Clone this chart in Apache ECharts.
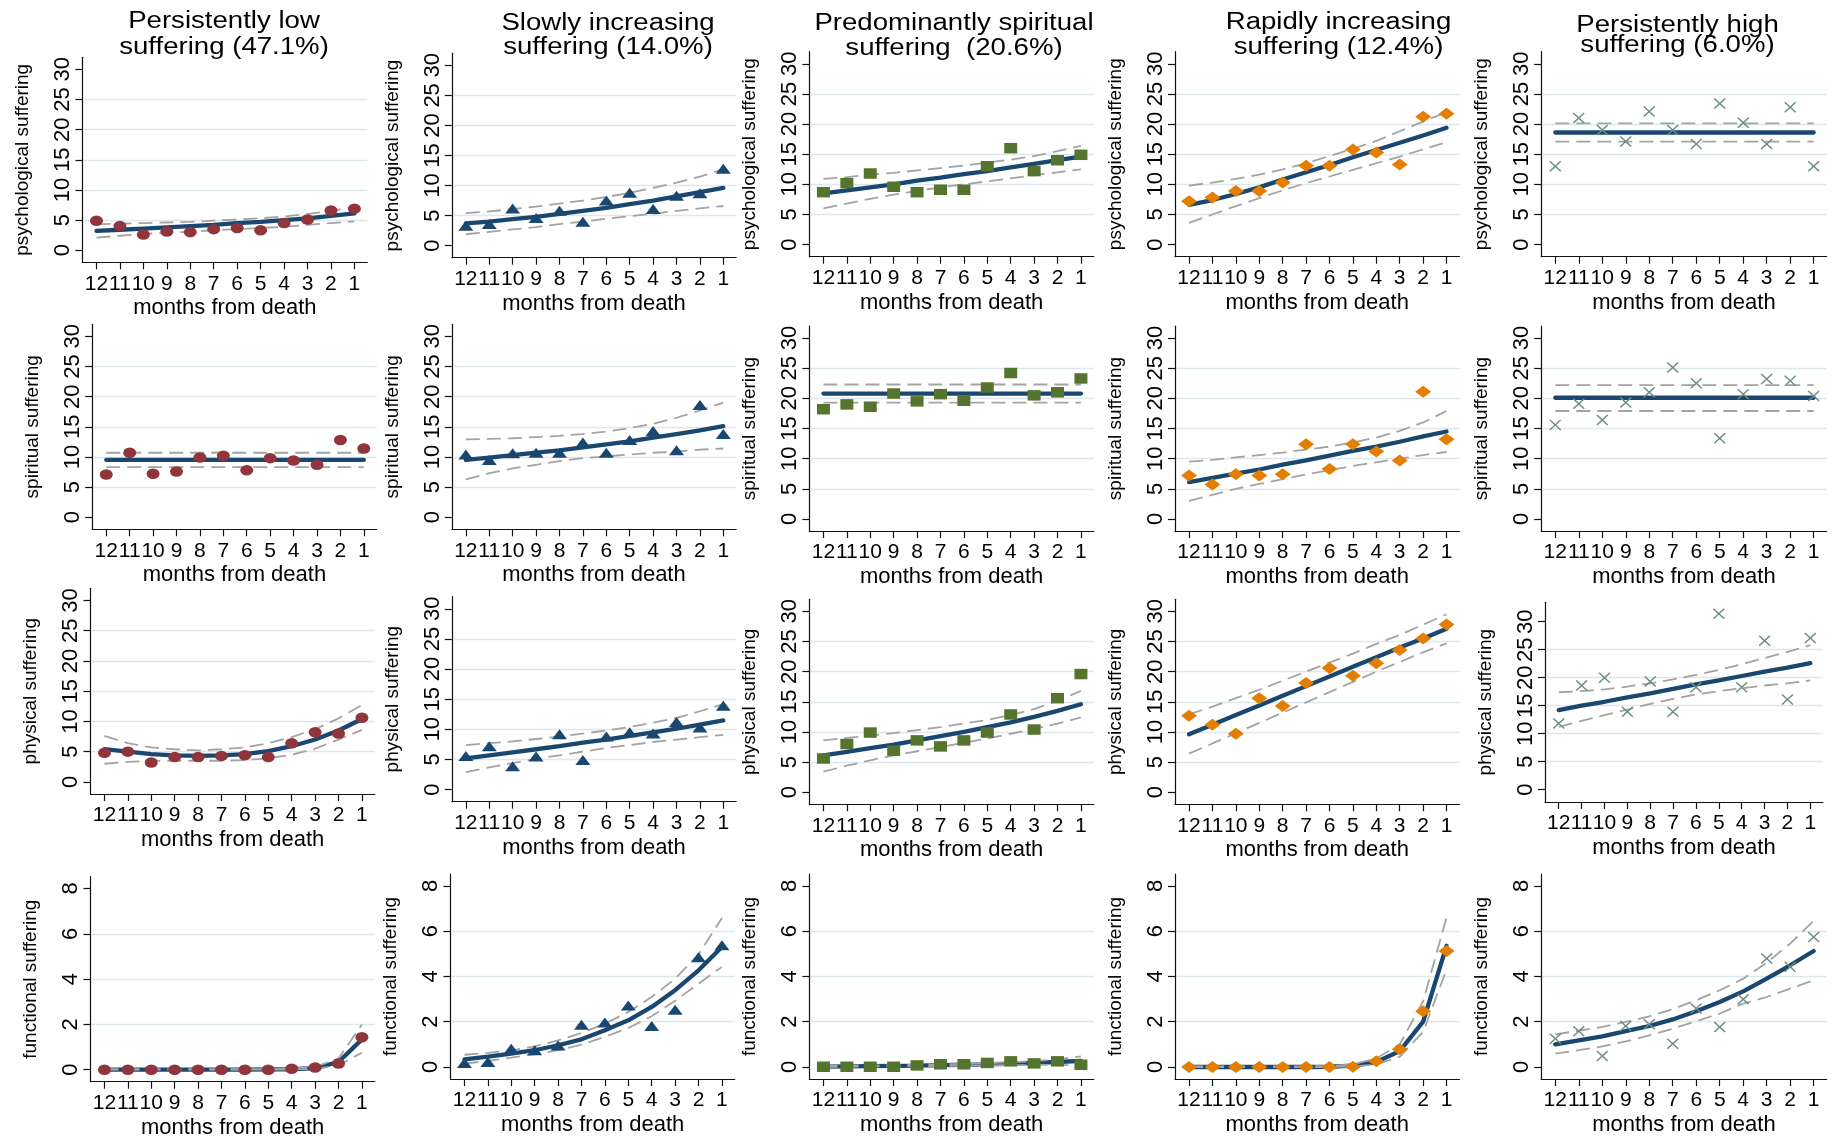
<!DOCTYPE html>
<html>
<head>
<meta charset="utf-8">
<title>Suffering trajectories in the last 12 months</title>
<script src="https://cdn.jsdelivr.net/npm/echarts@6.0.0/dist/echarts.min.js"></script>
<style>
html, body { margin: 0; padding: 0; background: #fff; }
#chart { width: 1835px; height: 1139px; }
</style>
</head>
<body>
<div id="chart"></div>
<script>
// 类别与刻度
var months = [12, 11, 10, 9, 8, 7, 6, 5, 4, 3, 2, 1];
var classTitles = [
	'Persistently low\nsuffering (47.1%)',
	'Slowly increasing\nsuffering (14.0%)',
	'Predominantly spiritual\nsuffering  (20.6%)',
	'Rapidly increasing\nsuffering (12.4%)',
	'Persistently high\nsuffering (6.0%)'
];
var domainNames = ['psychological suffering', 'spiritual suffering', 'physical suffering', 'functional suffering'];
var ticks30 = [0, 5, 10, 15, 20, 25, 30];
var ticks8 = [0, 2, 4, 6, 8];

// 数据: 每行一个类别 (月 12 -> 1)
var psychPts = [
	[4.9, 4.0, 2.6, 3.1, 3.0, 3.5, 3.7, 3.3, 4.5, 5.1, 6.6, 6.9],
	[3.3, 3.6, 6.2, 4.6, 5.8, 4.0, 7.5, 8.8, 6.1, 8.3, 8.7, 12.8],
	[8.7, 10.2, 11.8, 9.6, 8.7, 9.1, 9.1, 13.0, 16.0, 12.2, 14.0, 14.9],
	[7.2, 7.8, 8.9, 8.9, 10.3, 13.1, 13.1, 15.8, 15.3, 13.3, 21.2, 21.7],
	[13.0, 21.0, 19.0, 17.1, 22.1, 19.0, 16.7, 23.4, 20.2, 16.7, 22.8, 13.0]
];
var psychFit = [
	[3.2, 3.4, 3.6, 3.8, 4.0, 4.2, 4.5, 4.7, 5.0, 5.3, 5.7, 6.1],
	[3.7, 4.0, 4.4, 4.8, 5.3, 5.8, 6.3, 6.9, 7.5, 8.2, 8.9, 9.6],
	[8.5, 9.0, 9.5, 10.0, 10.6, 11.1, 11.7, 12.2, 12.8, 13.4, 14.0, 14.6],
	[6.6, 7.4, 8.4, 9.5, 10.8, 12.0, 13.2, 14.5, 15.7, 16.9, 18.1, 19.4],
	[18.6, 18.6, 18.6, 18.6, 18.6, 18.6, 18.6, 18.6, 18.6, 18.6, 18.6, 18.6]
];
var psychHi = [
	[4.3, 4.4, 4.5, 4.6, 4.7, 4.9, 5.1, 5.3, 5.6, 6.0, 6.5, 7.2],
	[5.4, 5.7, 6.1, 6.5, 7.0, 7.5, 8.1, 8.8, 9.6, 10.5, 11.5, 12.7],
	[10.9, 11.2, 11.6, 11.9, 12.3, 12.7, 13.1, 13.6, 14.1, 14.7, 15.5, 16.4],
	[9.8, 10.3, 10.9, 11.6, 12.5, 13.5, 14.7, 15.9, 17.2, 18.8, 20.4, 22.0],
	[20.1, 20.1, 20.1, 20.1, 20.1, 20.1, 20.1, 20.1, 20.1, 20.1, 20.1, 20.1]
];
var psychLo = [
	[2.1, 2.4, 2.7, 2.9, 3.1, 3.3, 3.5, 3.7, 3.9, 4.2, 4.5, 4.8],
	[1.9, 2.3, 2.7, 3.1, 3.6, 4.0, 4.5, 4.9, 5.3, 5.8, 6.2, 6.6],
	[6.0, 6.8, 7.6, 8.3, 8.9, 9.5, 10.0, 10.5, 11.0, 11.5, 12.0, 12.5],
	[3.6, 5.0, 6.4, 7.7, 9.0, 10.2, 11.3, 12.4, 13.5, 14.6, 15.8, 17.0],
	[17.1, 17.1, 17.1, 17.1, 17.1, 17.1, 17.1, 17.1, 17.1, 17.1, 17.1, 17.1]
];

var spirPts = [
	[7.1, 10.7, 7.2, 7.6, 9.9, 10.2, 7.8, 9.8, 9.4, 8.7, 12.8, 11.4],
	[10.4, 9.5, 10.6, 10.7, 10.7, 12.4, 10.7, 12.8, 14.3, 11.1, 18.6, 13.8],
	[18.2, 19.0, 18.6, 20.8, 19.5, 20.7, 19.6, 21.8, 24.2, 20.5, 21.0, 23.3],
	[7.2, 5.7, 7.4, 7.2, 7.4, 12.4, 8.3, 12.4, 11.2, 9.7, 21.1, 13.2],
	[15.6, 19.1, 16.4, 19.3, 21.0, 25.1, 22.5, 13.4, 20.7, 23.2, 22.9, 20.4]
];
var spirFit = [
	[9.5, 9.5, 9.5, 9.5, 9.5, 9.5, 9.5, 9.5, 9.5, 9.5, 9.5, 9.5],
	[9.5, 9.9, 10.3, 10.7, 11.1, 11.6, 12.1, 12.6, 13.2, 13.8, 14.4, 15.1],
	[20.8, 20.8, 20.8, 20.8, 20.8, 20.8, 20.8, 20.8, 20.8, 20.8, 20.8, 20.8],
	[6.1, 6.8, 7.5, 8.2, 9.0, 9.7, 10.5, 11.3, 12.0, 12.8, 13.7, 14.5],
	[20.1, 20.1, 20.1, 20.1, 20.1, 20.1, 20.1, 20.1, 20.1, 20.1, 20.1, 20.1]
];
var spirHi = [
	[10.7, 10.7, 10.7, 10.7, 10.7, 10.7, 10.7, 10.7, 10.7, 10.7, 10.7, 10.7],
	[12.9, 13.0, 13.1, 13.3, 13.5, 13.8, 14.2, 14.8, 15.5, 16.5, 17.7, 19.0],
	[22.3, 22.3, 22.3, 22.3, 22.3, 22.3, 22.3, 22.3, 22.3, 22.3, 22.3, 22.3],
	[9.5, 9.8, 10.2, 10.6, 11.0, 11.5, 12.0, 12.7, 13.5, 14.6, 16.0, 17.9],
	[22.2, 22.2, 22.2, 22.2, 22.2, 22.2, 22.2, 22.2, 22.2, 22.2, 22.2, 22.2]
];
var spirLo = [
	[8.3, 8.3, 8.3, 8.3, 8.3, 8.3, 8.3, 8.3, 8.3, 8.3, 8.3, 8.3],
	[6.3, 7.3, 8.1, 8.7, 9.3, 9.8, 10.1, 10.4, 10.7, 10.9, 11.2, 11.4],
	[19.3, 19.3, 19.3, 19.3, 19.3, 19.3, 19.3, 19.3, 19.3, 19.3, 19.3, 19.3],
	[3.0, 4.0, 5.0, 5.8, 6.6, 7.4, 8.1, 8.8, 9.4, 10.0, 10.6, 11.1],
	[17.9, 17.9, 17.9, 17.9, 17.9, 17.9, 17.9, 17.9, 17.9, 17.9, 17.9, 17.9]
];

var physPts = [
	[4.8, 5.0, 3.2, 4.1, 4.1, 4.3, 4.4, 4.1, 6.4, 8.2, 8.0, 10.6],
	[5.6, 7.2, 3.9, 5.5, 9.2, 4.9, 8.8, 9.5, 9.3, 11.2, 10.3, 13.9],
	[5.6, 8.0, 9.9, 6.9, 8.6, 7.6, 8.6, 9.9, 12.9, 10.4, 15.6, 19.6],
	[12.7, 11.2, 9.7, 15.6, 14.3, 18.1, 20.6, 19.3, 21.4, 23.6, 25.5, 27.8],
	[11.8, 18.6, 20.0, 13.9, 19.3, 13.9, 18.3, 31.4, 18.3, 26.6, 16.1, 27.1]
];
var physFit = [
	[5.4, 5.0, 4.6, 4.4, 4.3, 4.4, 4.6, 5.1, 5.9, 7.0, 8.5, 10.4],
	[5.2, 5.7, 6.2, 6.7, 7.2, 7.8, 8.3, 8.9, 9.5, 10.1, 10.8, 11.5],
	[6.1, 6.7, 7.3, 7.9, 8.6, 9.3, 10.0, 10.8, 11.6, 12.5, 13.5, 14.6],
	[9.6, 11.2, 12.8, 14.4, 16.0, 17.6, 19.2, 20.8, 22.4, 24.0, 25.5, 27.1],
	[14.2, 15.0, 15.7, 16.5, 17.2, 18.0, 18.8, 19.5, 20.3, 21.1, 21.8, 22.6]
];
var physHi = [
	[7.6, 6.4, 5.7, 5.4, 5.2, 5.4, 5.7, 6.4, 7.4, 8.7, 10.5, 12.7],
	[7.4, 7.7, 8.0, 8.4, 8.8, 9.3, 9.8, 10.4, 11.1, 11.9, 13.0, 14.2],
	[8.6, 9.0, 9.4, 9.8, 10.3, 10.8, 11.4, 12.0, 12.8, 13.8, 15.2, 16.8],
	[12.9, 14.2, 15.6, 17.0, 18.5, 20.0, 21.5, 23.0, 24.6, 26.1, 27.8, 29.5],
	[17.4, 17.6, 17.9, 18.4, 19.0, 19.7, 20.5, 21.4, 22.4, 23.5, 24.6, 25.8]
];
var physLo = [
	[3.0, 3.3, 3.5, 3.5, 3.5, 3.5, 3.6, 3.9, 4.5, 5.5, 7.0, 8.6],
	[2.9, 3.7, 4.4, 5.1, 5.7, 6.3, 6.9, 7.4, 7.9, 8.3, 8.7, 9.1],
	[3.4, 4.4, 5.3, 6.1, 6.8, 7.5, 8.2, 8.9, 9.7, 10.5, 11.4, 12.4],
	[6.4, 8.1, 9.8, 11.5, 13.2, 14.9, 16.6, 18.3, 20.0, 21.6, 23.2, 24.7],
	[11.2, 12.3, 13.3, 14.3, 15.3, 16.2, 17.0, 17.6, 18.1, 18.6, 19.0, 19.5]
];

var funcPts = [
	[0, 0, 0, 0, 0, 0, 0, 0, 0.04, 0.1, 0.27, 1.43],
	[0.18, 0.22, 0.8, 0.74, 0.95, 1.87, 1.96, 2.72, 1.81, 2.53, 4.85, 5.38],
	[0.01, 0.01, 0.01, 0.01, 0.07, 0.12, 0.12, 0.18, 0.25, 0.16, 0.25, 0.1],
	[0, 0, 0, 0, 0, 0, 0, 0.01, 0.25, 0.78, 2.46, 5.12],
	[1.25, 1.58, 0.49, 1.81, 1.89, 1.03, 2.58, 1.77, 2.99, 4.79, 4.42, 5.74]
];
var funcFit = [
	[0, 0, 0, 0, 0, 0, 0, 0.01, 0.02, 0.07, 0.34, 1.34],
	[0.34, 0.46, 0.59, 0.74, 0.96, 1.22, 1.62, 2.06, 2.65, 3.39, 4.27, 5.3],
	[0.02, 0.03, 0.04, 0.05, 0.06, 0.08, 0.1, 0.12, 0.15, 0.18, 0.22, 0.27],
	[0, 0, 0, 0, 0, 0, 0.01, 0.06, 0.22, 0.7, 2.0, 5.35],
	[1.0, 1.18, 1.35, 1.58, 1.81, 2.1, 2.46, 2.87, 3.34, 3.9, 4.49, 5.12]
];
var funcHi = [
	[0.02, 0.02, 0.02, 0.02, 0.02, 0.02, 0.02, 0.03, 0.05, 0.12, 0.5, 2.0],
	[0.54, 0.62, 0.74, 0.91, 1.18, 1.5, 1.91, 2.43, 3.09, 3.9, 4.96, 6.58],
	[0.05, 0.06, 0.07, 0.08, 0.1, 0.12, 0.14, 0.17, 0.21, 0.26, 0.34, 0.47],
	[0.03, 0.03, 0.03, 0.03, 0.03, 0.03, 0.04, 0.12, 0.38, 1.0, 2.9, 6.6],
	[1.44, 1.6, 1.77, 1.99, 2.24, 2.55, 2.95, 3.39, 3.9, 4.6, 5.45, 6.45]
];
var funcLo = [
	[0, 0, 0, 0, 0, 0, 0, 0, 0.01, 0.03, 0.2, 0.75],
	[0.15, 0.27, 0.41, 0.56, 0.74, 0.99, 1.33, 1.72, 2.24, 2.92, 3.68, 4.42],
	[0, 0.01, 0.02, 0.03, 0.04, 0.05, 0.06, 0.07, 0.08, 0.09, 0.09, 0.08],
	[0, 0, 0, 0, 0, 0, 0, 0.02, 0.12, 0.45, 1.55, 4.3],
	[0.59, 0.74, 0.91, 1.13, 1.4, 1.69, 2.02, 2.36, 2.8, 3.09, 3.46, 3.83]
];

// 样式
var classColors = ['#90353B', '#1A476F', '#55752F', '#E37E00', '#6E8E84'];
var xMark = 'path://M0,9L9,0L50,41L91,0L100,9L59,50L100,91L91,100L50,59L9,100L0,91L41,50Z';
var classSymbols = ['circle', 'triangle', 'rect', 'diamond', xMark];
var classSymbolSizes = [[13, 10.5], [15, 10], [13, 10.5], [16, 12], [12, 11]];
var fitColor = '#1A476F', ciColor = '#a3a3a3', gridColor = '#dde8ee', axisColor = '#111';
var FONT = '"Liberation Sans", Arial, sans-serif';
var NARROW = '"Liberation Sans Narrow", "Liberation Sans", Arial, sans-serif';

// 版面 (像素)
var gridLR = [
	[[82.4, 367.3], [451.8, 736.2], [809.4, 1093.8], [1175, 1459.4], [1541.2, 1826.6]],
	[[92.2, 376.7], [451.8, 736.2], [809.4, 1093.8], [1175, 1459.4], [1541.2, 1826.6]],
	[[90.4, 374.8], [451.8, 736.2], [809.4, 1093.8], [1175, 1459.4], [1545, 1822.9]],
	[[90.4, 374.8], [450.4, 734.8], [809.4, 1093.8], [1175, 1459.4], [1541.2, 1826.6]]
];
var gridTB = [
	[[57.3, 262.3], [53.3, 257.7], [51.7, 256.7], [51.7, 256.7], [51.7, 256.7]],
	[[324.3, 529.3], [324.3, 529.3], [326, 531], [326, 531], [326, 531]],
	[[588.3, 794], [596.7, 801.7], [599.3, 804.3], [599.3, 804.3], [602.3, 802]],
	[[876.7, 1081.7], [874, 1079], [874, 1079], [874, 1079], [874, 1079]]
];
var titleX = [224, 608, 954, 1338.5, 1677.5];
var titleY = [8.5, 11.2, 10.7, 10.4, 15.5];
var titleLH = [26, 24, 25, 25, 20];

function yRange(r, c) {
	if (r === 3) return [-0.53, 8.52];
	if (r === 2 && c === 4) return [-2.2, 33.46];
	return [-2, 32];
}

var domains = [
	{pts: psychPts, fit: psychFit, hi: psychHi, lo: psychLo},
	{pts: spirPts, fit: spirFit, hi: spirHi, lo: spirLo},
	{pts: physPts, fit: physFit, hi: physHi, lo: physLo},
	{pts: funcPts, fit: funcFit, hi: funcHi, lo: funcLo}
];

function pairs(vals) {
	return months.map(function (m, k) { return [m, vals[k]]; });
}

var grids = [], xAxes = [], yAxes = [], series = [];
var lineStyleAxis = {color: axisColor, width: 1.2};

domains.forEach(function (d, r) {
	for (var c = 0; c < 5; c++) {
		var i = grids.length;
		var lr = gridLR[r][c], tb = gridTB[r][c], yr = yRange(r, c);
		var ticks = r === 3 ? ticks8 : ticks30;
		grids.push({
			left: lr[0], top: tb[0], width: lr[1] - lr[0], height: tb[1] - tb[0],
			containLabel: false, outerBoundsMode: 'none'
		});
		xAxes.push({
			gridIndex: i, type: 'value', inverse: true, min: 0.45, max: 12.6,
			axisLine: {show: true, onZero: false, lineStyle: lineStyleAxis},
			axisTick: {show: true, length: 7, customValues: months, lineStyle: lineStyleAxis},
			axisLabel: {customValues: months, margin: 11, fontSize: 21, fontFamily: NARROW, color: '#000'},
			splitLine: {show: false},
			name: 'months from death', nameLocation: 'middle', nameGap: 35, nameMoveOverlap: false,
			nameTextStyle: {fontSize: 22, fontFamily: FONT, color: '#000'}
		});
		yAxes.push({
			gridIndex: i, type: 'value', min: yr[0], max: yr[1],
			axisLine: {show: true, onZero: false, lineStyle: lineStyleAxis},
			axisTick: {show: true, length: 7, customValues: ticks, lineStyle: lineStyleAxis},
			axisLabel: {customValues: ticks, rotate: 90, margin: 8, fontSize: 22, fontFamily: NARROW, color: '#000'},
			splitLine: {show: true, showMinLine: false, showMaxLine: false, lineStyle: {color: gridColor, width: 1.4}},
			name: domainNames[r], nameLocation: 'middle', nameGap: 50, nameMoveOverlap: false,
			nameTextStyle: {fontSize: 19, fontFamily: FONT, color: '#000'}
		});
		series.push({
			type: 'line', xAxisIndex: i, yAxisIndex: i, data: pairs(d.fit[c]),
			symbol: 'none', silent: true, z: 2,
			lineStyle: {color: fitColor, width: 4.3, cap: 'round'}
		});
		[d.hi[c], d.lo[c]].forEach(function (band) {
			series.push({
				type: 'line', xAxisIndex: i, yAxisIndex: i, data: pairs(band),
				symbol: 'none', silent: true, z: 3,
				lineStyle: {color: ciColor, width: 1.8, type: [14, 7]}
			});
		});
		series.push({
			type: 'scatter', xAxisIndex: i, yAxisIndex: i, data: pairs(d.pts[c]),
			symbol: classSymbols[c], symbolSize: classSymbolSizes[c], silent: true, z: 4,
			itemStyle: {color: classColors[c], opacity: 1}
		});
	}
});

var titles = classTitles.map(function (t, c) {
	return {
		type: 'text', x: titleX[c], y: titleY[c], scaleX: 1.2, silent: true,
		style: {
			text: t, fill: '#000', fontSize: 23, fontFamily: FONT, lineHeight: titleLH[c],
			align: 'center', verticalAlign: 'top', textAlign: 'center', textVerticalAlign: 'top'
		}
	};
});

var chart = echarts.init(document.getElementById('chart'), null, {renderer: 'canvas'});
chart.setOption({
	backgroundColor: '#fff',
	animation: false,
	grid: grids,
	xAxis: xAxes,
	yAxis: yAxes,
	series: series,
	graphic: titles
});
</script>
</body>
</html>
